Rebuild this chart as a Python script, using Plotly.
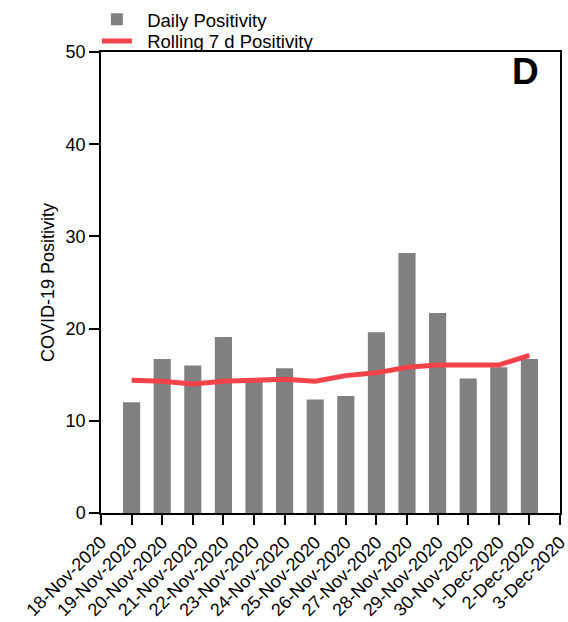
import plotly.graph_objects as go

# Date axis: one tick per day, bars on the inner days
dates = ["18-Nov-2020", "19-Nov-2020", "20-Nov-2020", "21-Nov-2020", "22-Nov-2020",
         "23-Nov-2020", "24-Nov-2020", "25-Nov-2020", "26-Nov-2020", "27-Nov-2020",
         "28-Nov-2020", "29-Nov-2020", "30-Nov-2020", "1-Dec-2020", "2-Dec-2020",
         "3-Dec-2020"]
bar_dates = dates[1:15]

daily_positivity = [12.0, 16.7, 16.0, 19.1, 14.3, 15.7, 12.3, 12.7, 19.6, 28.2,
                    21.7, 14.6, 15.8, 16.7]
rolling_7d = [14.4, 14.3, 14.0, 14.3, 14.4, 14.5, 14.3, 14.9, 15.2, 15.8,
              16.05, 16.1, 16.05, 17.1]

y_ticks = [0, 10, 20, 30, 40, 50]

font_family = "Liberation Sans, Arial, sans-serif"
pad = "\u00a0\u00a0"  # a little extra room between legend symbol and label

fig = go.Figure()
fig.add_trace(go.Bar(
    x=bar_dates, y=daily_positivity, name=pad + "Daily Positivity",
    marker=dict(color="#808080", line=dict(width=0)), width=0.56,
    legend="legend",
))
fig.add_trace(go.Scatter(
    x=bar_dates, y=rolling_7d, name=pad + "Rolling 7 d Positivity", mode="lines",
    line=dict(color="#F4424A", width=5),
    legend="legend2",
))

legend_common = dict(
    xanchor="left", yanchor="top", font=dict(size=18.5),
    bgcolor="rgba(0,0,0,0)", itemwidth=30,
)

fig.update_layout(
    width=568, height=622,
    margin=dict(l=101, r=8, t=52, b=109, autoexpand=False),
    paper_bgcolor="white", plot_bgcolor="white",
    font=dict(family=font_family, color="black", size=18),
    showlegend=True,
    legend=dict(x=-0.009, y=1.111, **legend_common),
    legend2=dict(x=-0.009, y=1.064, **legend_common),
    xaxis=dict(
        type="category", categoryorder="array", categoryarray=dates,
        tickvals=dates, ticktext=dates,
        range=[0, 15], tickangle=-45,
        showline=True, linecolor="black", linewidth=1.5, mirror=True,
        ticks="outside", ticklen=10, tickwidth=1.5, tickcolor="black",
        showgrid=False, zeroline=False,
        tickfont=dict(size=18),
    ),
    yaxis=dict(
        range=[0, 50], tickvals=y_ticks,
        showline=True, linecolor="black", linewidth=1.5, mirror=True,
        ticks="outside", ticklen=10, tickwidth=1.5, tickcolor="black",
        showgrid=False, zeroline=False,
        tickfont=dict(size=18),
        title=dict(text="COVID-19 Positivity", font=dict(size=18), standoff=6),
    ),
    annotations=[dict(
        text="<b>D</b>", x=0.924, y=0.958, xref="paper", yref="paper",
        xanchor="center", yanchor="middle",
        showarrow=False, font=dict(size=37, family=font_family, color="black"),
    )],
)

fig.write_html("out.html")
